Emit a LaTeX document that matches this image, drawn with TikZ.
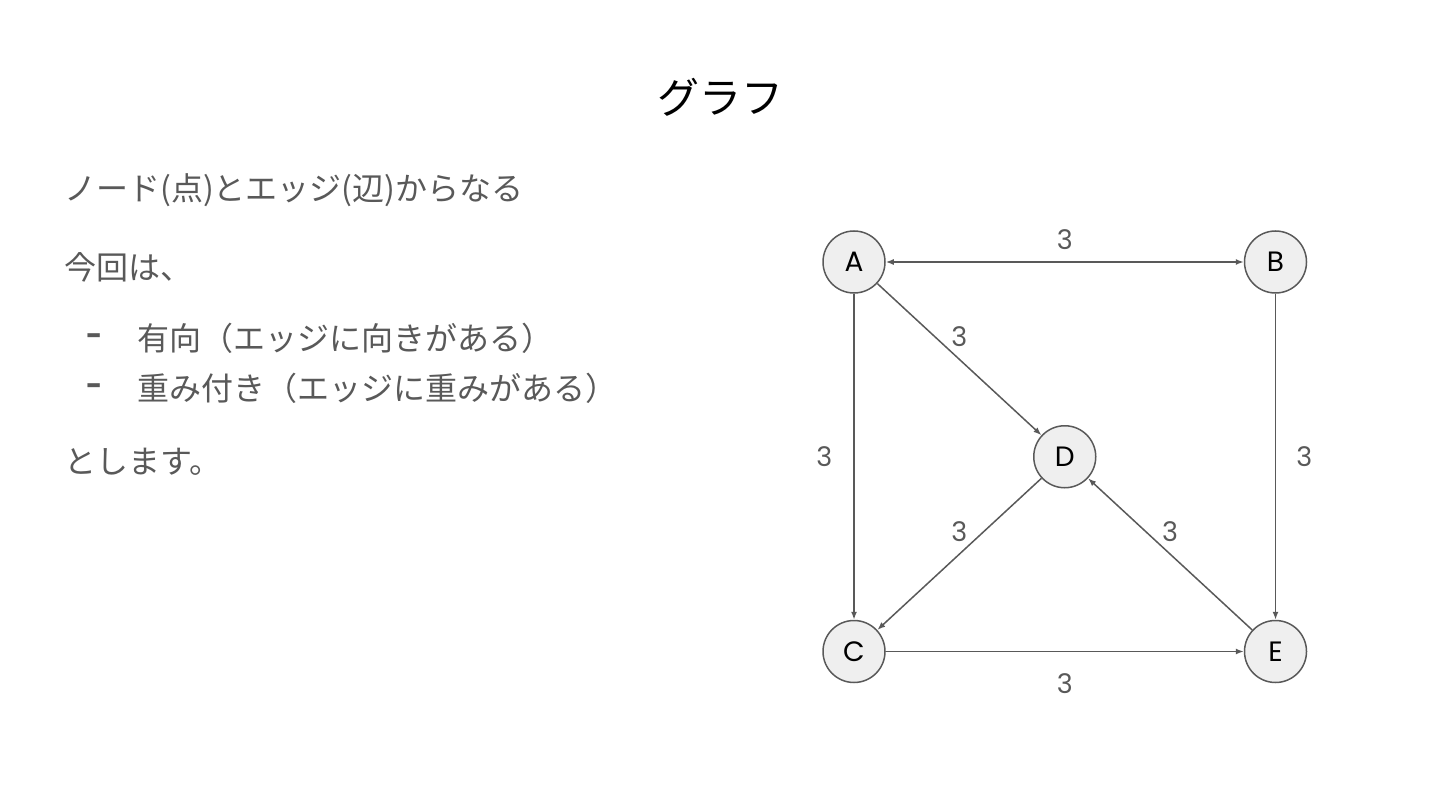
\documentclass[tikz,border=0pt]{standalone}
\usepackage{fontspec}
\setmainfont{Noto Sans CJK JP}
\newfontfamily\latinfont{Poppins}
\usepackage{tikz}
\usetikzlibrary{arrows.meta, positioning, calc}
\definecolor{textgray}{HTML}{595959}
\definecolor{nodefill}{HTML}{EFEFEF}
\tikzset{
    vertex/.style={circle, draw=textgray, line width=1.5pt, fill=nodefill, minimum size=62pt, inner sep=0pt, font=\latinfont\fontsize{28}{28}\selectfont, text=black},
    edge/.style={-{Latex[length=8pt, width=6pt]}, draw=textgray, line width=1.5pt},
    wt/.style={inner sep=0pt, font=\latinfont\fontsize{27}{27}\selectfont, text=textgray},
    body/.style={anchor=west, inner sep=0pt, font=\fontsize{32}{32}\selectfont, text=textgray}
}

\begin{document}
\begin{tikzpicture}[x=1pt, y=-1pt, node distance=326pt and 358pt]
            \useasboundingbox (0,0) rectangle (1440,810);

            % Title
            \node (title) [font=\fontsize{42}{42}\selectfont] at (720,97) {グラフ};

            % Left text
            \node (l1) [body] at (64,190) {ノード(点)とエッジ(辺)からなる};
            \node (l2) [body] at (64,267) {今回は、};
            \node (b1) [body, font=\latinfont\bfseries\fontsize{28}{28}\selectfont] at (86,340) {-};
            \node (l3) [body] at (137,338) {有向（エッジに向きがある）};
            \node (b2) [body, font=\latinfont\bfseries\fontsize{28}{28}\selectfont] at (86,390) {-};
            \node (l4) [body] at (137,388) {重み付き（エッジに重みがある）};
            \node (l5) [body] at (64,462) {とします。};

            % Vertices
            \node (A) [vertex] at (854,262) {A};
            \node (B) [vertex, right=of A] {B};
            \node (C) [vertex, below=of A] {C};
            \node (E) [vertex, right=of C] {E};
            \node (D) [vertex] at ($(A)!0.5!(E)$) {D};

            % Edges
            \draw [edge, {Latex[length=8pt, width=6pt]}-{Latex[length=8pt, width=6pt]}] (A) -- node[wt, above=12pt] {3} (B);
            \draw [edge] (A) -- node[wt, above=12pt] {3} (D);
            \draw [edge] (A) -- node[wt, left=21pt] {3} (C);
            \draw [edge] (B) -- node[wt, right=20pt] {3} (E);
            \draw [edge] (D) -- node[wt, above=12pt] {3} (C);
            \draw [edge] (E) -- node[wt, above=12pt] {3} (D);
            \draw [edge] (C) -- node[wt, below=21pt] {3} (E);
		\end{tikzpicture}
\end{document}
